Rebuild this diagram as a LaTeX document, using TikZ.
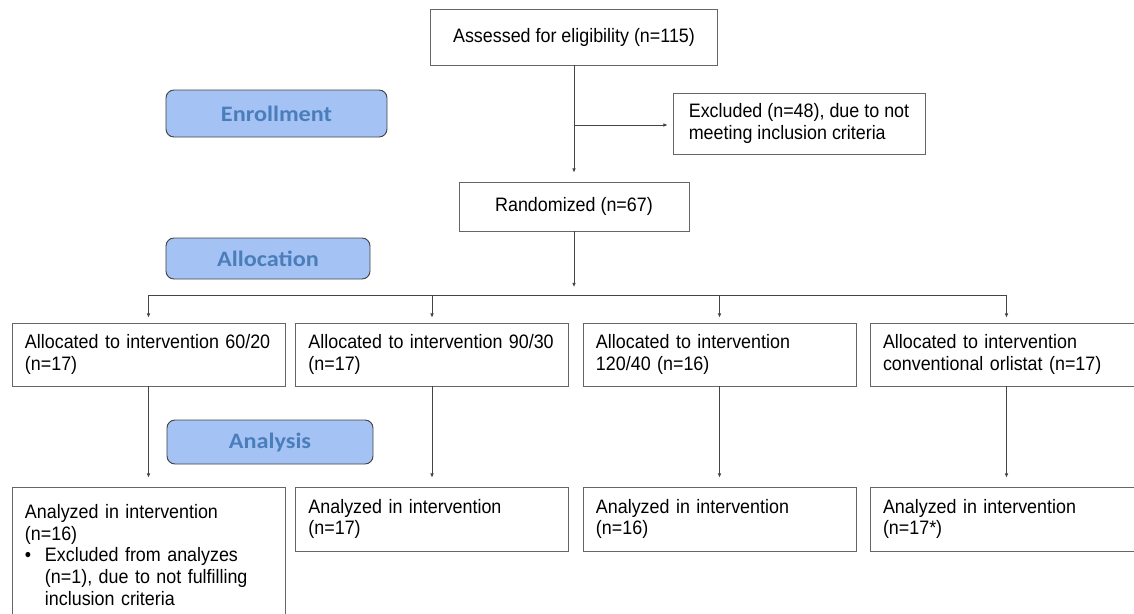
\documentclass[tikz,border=0pt]{standalone}
\usepackage{fontspec}
\setmainfont{Liberation Sans}[FakeStretch=0.92]
\newfontfamily\stagefont{Carlito}[FakeStretch=1.1]
\usetikzlibrary{arrows.meta,positioning}
\definecolor{stagefill}{RGB}{164,194,244}
\definecolor{stagetext}{RGB}{74,126,187}
\definecolor{stageedge}{RGB}{67,67,67}
\definecolor{boxedge}{RGB}{102,102,102}
\definecolor{linegray}{RGB}{68,68,68}

\begin{document}
\begin{tikzpicture}[x=0.03cm,y=-0.03cm,
  font=\fontsize{16.6}{18.4}\selectfont,
  flowbox/.style={draw=boxedge,line width=0.8pt,inner xsep=0.39cm,inner ysep=0pt},
  armbox/.style={flowbox,text width=7.41cm,align=left,minimum height=1.89cm},
  stagelabel/.style={draw=stageedge,fill=stagefill,rounded corners=0.24cm,line width=0.8pt,
    text=stagetext,font=\stagefont\bfseries\fontsize{18.8}{22}\selectfont},
  link/.style={draw=linegray,line width=0.7pt},
  arr/.style={link,-{Latex[length=3.5pt,width=3.2pt]}}]
\useasboundingbox (0,0) rectangle (1134,614);
\clip (0,0) rectangle (1134,614);

% enrollment part
\node[flowbox,minimum width=8.61cm,minimum height=1.68cm] (assess) at (574,37) {Assessed for eligibility (n=115)};
\node[flowbox,align=left,minimum width=7.56cm,minimum height=1.83cm] (excl) at (799,123.5) {Excluded (n=48), due to not\\meeting inclusion criteria};
\node[flowbox,minimum width=6.9cm,minimum height=1.47cm] (rand) at (574,206.5) {Randomized (n=67)};

% stage labels
\node[stagelabel,minimum width=6.63cm,minimum height=1.41cm] (enrol) at (276.5,113.5) {Enrollment};
\node[stagelabel,minimum width=6.12cm,minimum height=1.23cm] (allocl) at (268,258.5) {Allocation};
\node[stagelabel,minimum width=6.18cm,minimum height=1.32cm] (anal) at (270,442) {Analysis};

% allocation
\node[armbox] (alloc1) at (148.5,354.5) {Allocated to intervention 60/20\\(n=17)};
\node[armbox] (alloc2) at (432,354.5) {Allocated to intervention 90/30\\(n=17)};
\node[armbox] (alloc3) at (719.5,354.5) {Allocated to intervention\\120/40 (n=16)};
\node[armbox] (alloc4) at (1006.5,354.5) {Allocated to intervention\\conventional orlistat (n=17)};

% analysis
\node[armbox,minimum height=4.08cm] (res1) at (148.5,555) {Analyzed in intervention\\(n=16)\\\makebox[0.6cm][l]{\textbullet}Excluded from analyzes\\\hspace*{0.6cm}(n=1), due to not fulfilling\\\hspace*{0.6cm}inclusion criteria};
\node[armbox,minimum height=1.92cm] (res2) at (432,519) {Analyzed in intervention\\(n=17)};
\node[armbox,minimum height=1.92cm] (res3) at (719.5,519) {Analyzed in intervention\\(n=16)};
\node[armbox,minimum height=1.92cm] (res4) at (1006.5,519) {Analyzed in intervention\\(n=17*)};

% connectors
\coordinate (split) at (574,125);
\coordinate (bar) at (574,295);
\draw[link] (assess) -- (split);
\draw[arr,shorten >=0.27cm] (split) -- (rand);
\draw[arr,shorten >=0.15cm] (split) -- (split -| excl.west);
\draw[arr,shorten >=0.24cm] (rand) -- (rand |- bar);
\draw[link] (bar -| alloc1) -- (bar -| alloc4);
\foreach \i in {1,...,4}{
  \draw[arr,shorten >=0.15cm] (bar -| alloc\i) -- (alloc\i);
  \draw[arr,shorten >=0.27cm] (alloc\i) -- (res\i);
}
\end{tikzpicture}
\end{document}
